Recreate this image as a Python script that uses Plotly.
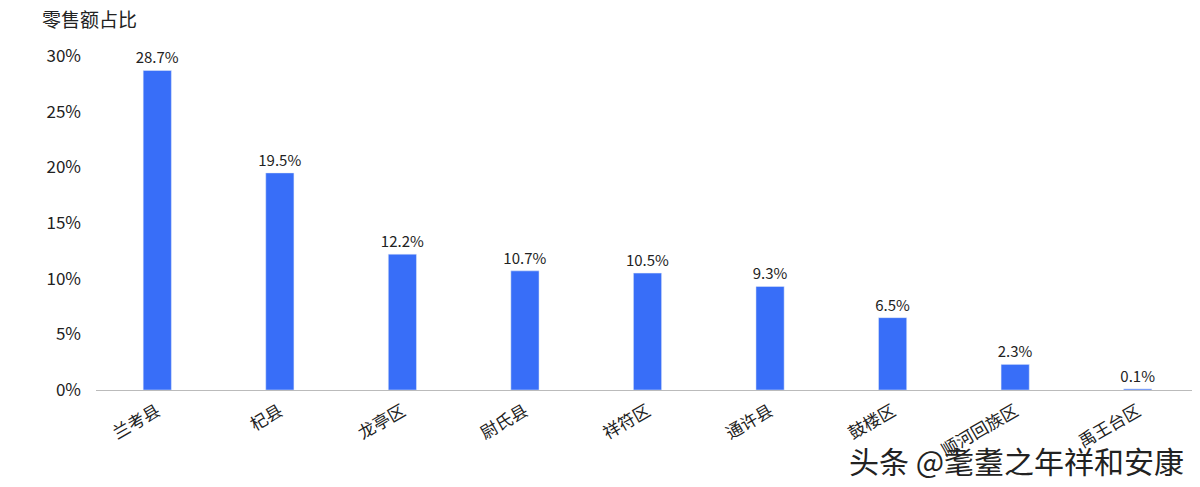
import plotly.graph_objects as go

categories = ["兰考县", "杞县", "龙亭区", "尉氏县", "祥符区", "通许县", "鼓楼区", "顺河回族区", "禹王台区"]
values = [28.7, 19.5, 12.2, 10.7, 10.5, 9.3, 6.5, 2.3, 0.1]
tick_vals = [0, 5, 10, 15, 20, 25, 30]
tick_text = ["0%", "5%", "10%", "15%", "20%", "25%", "30%"]

font = "Noto Sans CJK SC"
L, R, T, B = 88, 9, 48, 105
fig = go.Figure(go.Bar(
    x=categories, y=values, marker_color="#386EF8",
    text=[f"{v:.1f}%" for v in values], textposition="outside",
    textfont=dict(size=15, color="#222"), cliponaxis=False, constraintext="none",
))
fig.update_layout(
    width=1200, height=487, plot_bgcolor="white", paper_bgcolor="white",
    margin=dict(l=L, r=R, t=T, b=B), bargap=0.77, showlegend=False,
    uniformtext=dict(minsize=15, mode="show"),
    font=dict(family=font, color="#222"),
    xaxis=dict(tickangle=-30, tickfont=dict(size=17), showline=True, linecolor="#bbb", ticks="", automargin=False, ticklabelstandoff=4),
    yaxis=dict(range=[0, 30], tickvals=tick_vals, ticktext=tick_text, tickfont=dict(size=17),
               showgrid=False, zeroline=False, ticks="", automargin=False, ticklabelstandoff=14),
)
pw, ph = 1200 - L - R, 487 - T - B
def ann(text, px, py, size, anchor):
    fig.add_annotation(text=text, xref="paper", yref="paper", x=(px - L) / pw, y=(487 - B - py) / ph,
                       showarrow=False, font=dict(size=size, color="#222"), xanchor=anchor, yanchor="middle")
ann("零售额占比", 32, 10, 19, "left")
ann("头条 @耄耋之年祥和安康", 1178, 452, 30, "right")
fig.write_html("out.html")
